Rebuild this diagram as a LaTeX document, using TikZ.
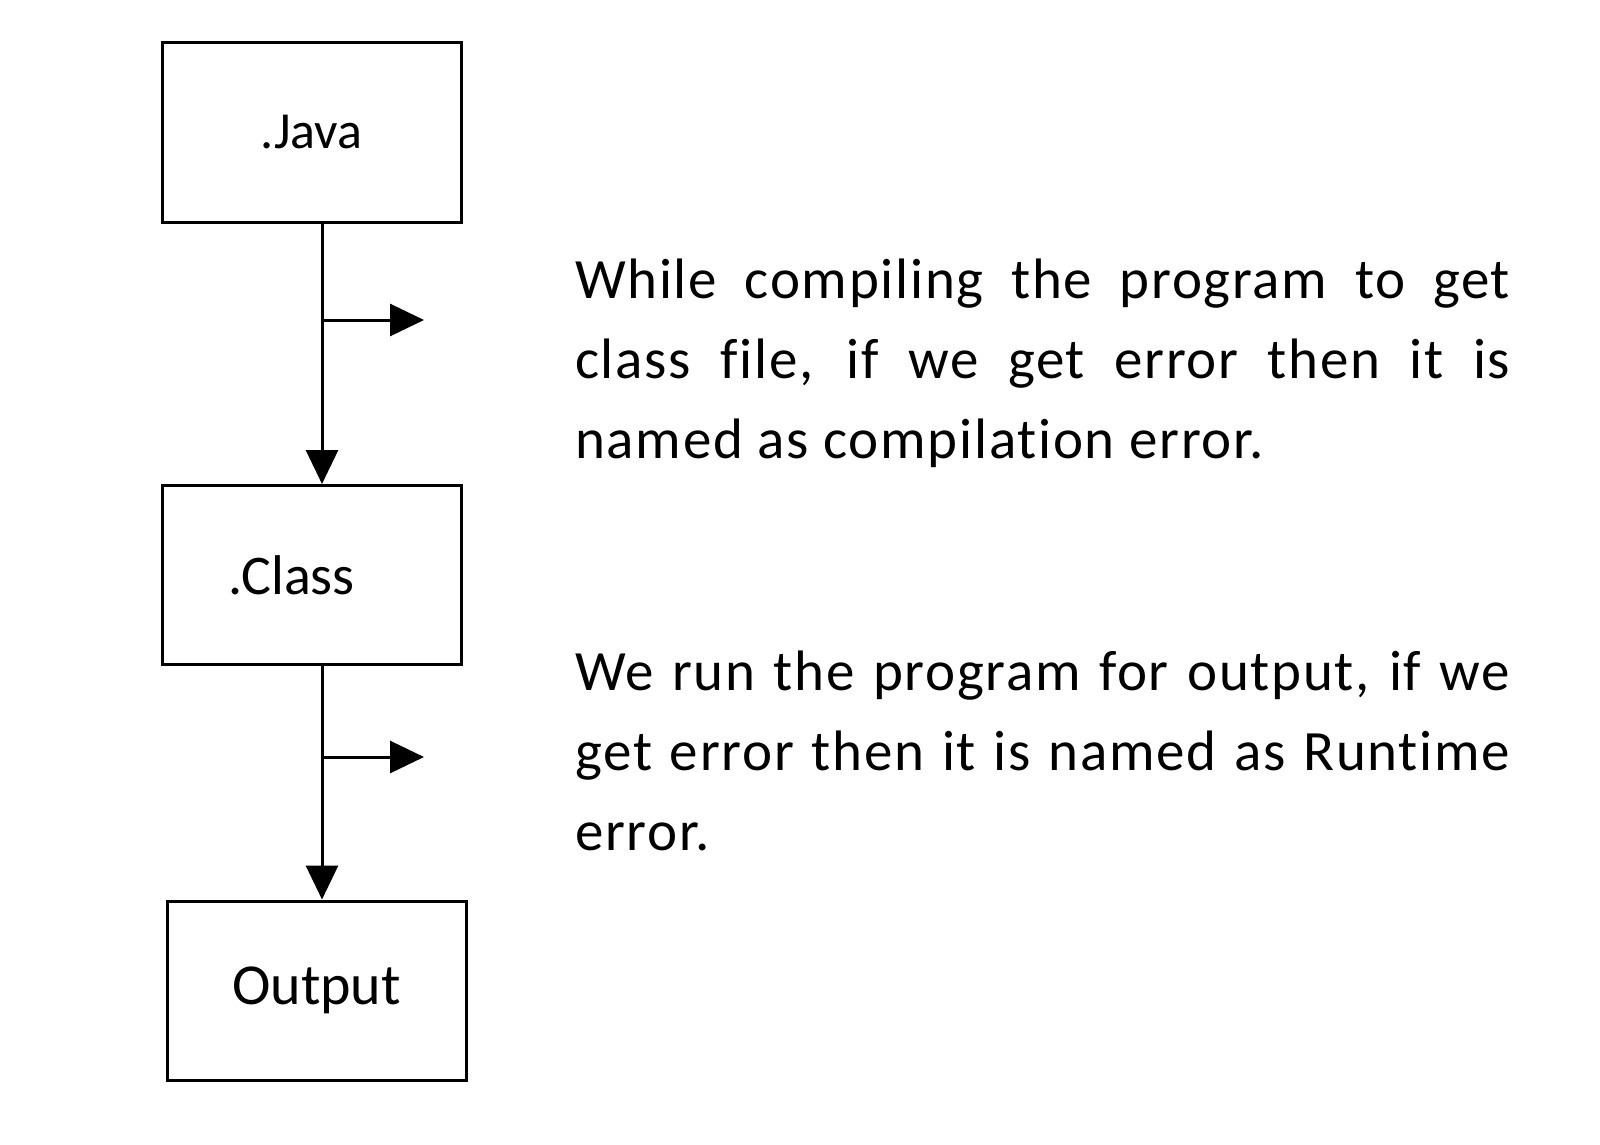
\documentclass[tikz,border=0pt]{standalone}
\usepackage{fontspec}
\setmainfont[Ligatures=NoCommon]{Carlito}
\newfontfamily\parafont[Ligatures=NoCommon,LetterSpace=3]{Carlito}
\usetikzlibrary{arrows.meta}
\begin{document}
\begin{tikzpicture}[x=1pt,y=-1pt,
  box/.style={draw,line width=3pt,minimum width=299pt,minimum height=179pt,inner sep=0pt},
  arr/.style={line width=3pt,-{Triangle[length=34pt,width=32pt]}},
  para/.style={anchor=base west,text width=935pt,align=justify,inner sep=0pt,font=\parafont\fontsize{57}{80}\selectfont}]
\useasboundingbox (0,0) rectangle (1600,1145);
\node[box,font=\fontsize{52}{60}\selectfont] (java) at (311.5,132.5) {.Java};
\node[box,font=\fontsize{56}{60}\selectfont] (class) at (311.5,575) {\hspace*{-40pt}.Class};
\node[box,font=\fontsize{58}{60}\selectfont] (out) at (316.5,990.5) {Output};
\coordinate (b1) at (322,320); \coordinate (e1) at (424,320);
\coordinate (b2) at (322,757); \coordinate (e2) at (424,757);
\draw[arr] (java.south -| b1) -- (class.north -| b1);
\draw[arr] (b1) -- (e1);
\draw[arr] (class.south -| b2) -- (out.north -| b2);
\draw[arr] (b2) -- (e2);
\node[para] (t1) at (575,298) {While compiling the program to get\linebreak class file, if we get error then it is\linebreak named as compilation error.};
\node[para] (t2) at (575,690) {We run the program for output, if we\linebreak get error then it is named as Runtime\linebreak error.};
\end{tikzpicture}
\end{document}
